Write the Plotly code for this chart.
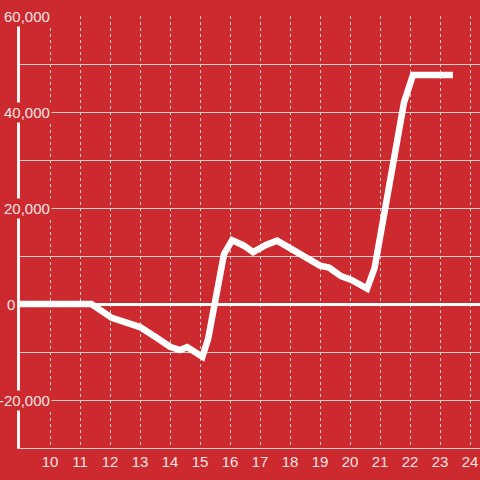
import plotly.graph_objects as go

BG_COLOR = "#cc2a2f"
GRID_COLOR = "#d0d0d0"
TEXT_COLOR = "#f2e4e4"
LINE_COLOR = "#ffffff"

# series
x_vals = [9.0, 11.38, 12.06, 12.67, 13.0, 13.57, 14.0, 14.33, 14.57, 14.83,
          15.08, 15.27, 15.8, 16.07, 16.45, 16.77, 17.2, 17.57, 18.3, 19.0,
          19.3, 19.7, 20.05, 20.57, 20.82, 21.8, 22.1, 23.43]
y_vals = [0, 0, -2900, -4000, -4800, -7100, -8900, -9600, -9000, -10000,
          -11000, -7300, 10400, 13300, 12200, 10800, 12300, 13200, 10700, 8000,
          7600, 5800, 5000, 3200, 7500, 42000, 47700, 47700]

x_ticks = [10, 11, 12, 13, 14, 15, 16, 17, 18, 19, 20, 21, 22, 23, 24]
y_label_vals = [-20000, 0, 20000, 40000, 60000]
y_label_text = ["-20,000", "0", "20,000", "40,000", "60,000"]

fig = go.Figure()
fig.add_trace(
    go.Scatter(
        x=x_vals,
        y=y_vals,
        mode="lines",
        line=dict(color=LINE_COLOR, width=6.5),
        showlegend=False,
        hoverinfo="skip",
    )
)

# y labels sit on top of the axis line with a red box behind them
for val, txt in zip(y_label_vals, y_label_text):
    right_px = 17 if val == 0 else 52
    fig.add_annotation(
        x=(right_px - 20) / 460,
        xref="paper",
        y=val,
        yref="y",
        text=txt,
        showarrow=False,
        xanchor="right",
        yanchor="middle",
        bgcolor=BG_COLOR,
        borderpad=1,
        font=dict(family="Liberation Sans, Arial, sans-serif", size=15, color=TEXT_COLOR),
    )

fig.update_layout(
    width=480,
    height=480,
    margin=dict(l=20, r=0, t=16, b=32),
    paper_bgcolor=BG_COLOR,
    plot_bgcolor=BG_COLOR,
    font=dict(family="Liberation Sans, Arial, sans-serif", size=15, color=TEXT_COLOR),
    xaxis=dict(
        range=[9, 9 + 460 / 30],
        tickvals=x_ticks,
        ticks="",
        showgrid=True,
        gridcolor=GRID_COLOR,
        gridwidth=1,
        griddash="dot",
        zeroline=False,
        showline=True,
        linecolor=GRID_COLOR,
        linewidth=1,
        tickfont=dict(size=15, color=TEXT_COLOR),
    ),
    yaxis=dict(
        range=[-30000, 60000],
        dtick=10000,
        showticklabels=False,
        ticks="",
        showgrid=True,
        gridcolor=GRID_COLOR,
        gridwidth=1,
        zeroline=True,
        zerolinecolor=LINE_COLOR,
        zerolinewidth=3,
        showline=True,
        linecolor="#f4f4f4",
        linewidth=3,
    ),
)

fig.write_html(
    "out.html",
    config={"displayModeBar": False},
    post_script="document.body.style.margin='0';",
)
